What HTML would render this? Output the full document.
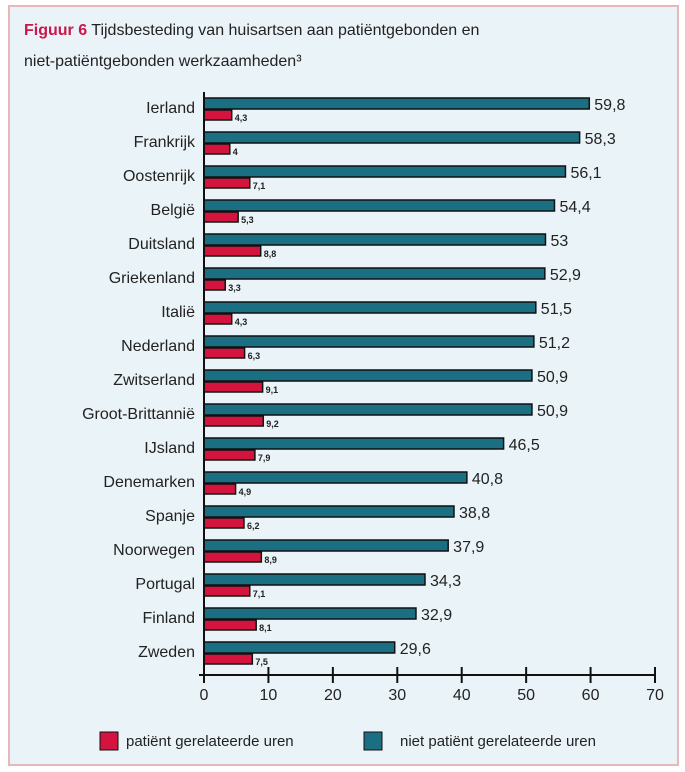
<!DOCTYPE html>
<html><head><meta charset="utf-8"><style>
body{margin:0;background:#fff;width:685px;height:772px;overflow:hidden;font-family:"Liberation Sans",sans-serif}
#frame{position:absolute;left:8px;top:5px;width:667px;height:757px;background:#eaf3f7;border:2px solid #e8b8b8}
</style></head><body>
<div id="frame"></div>
<svg id="chart" width="685" height="772" style="position:absolute;left:0;top:0"></svg>
<script>
const categories=["Ierland","Frankrijk","Oostenrijk","België","Duitsland","Griekenland","Italië","Nederland","Zwitserland","Groot-Brittannië","IJsland","Denemarken","Spanje","Noorwegen","Portugal","Finland","Zweden"];
const nonPatient=[59.8,58.3,56.1,54.4,53,52.9,51.5,51.2,50.9,50.9,46.5,40.8,38.8,37.9,34.3,32.9,29.6];
const patient=[4.3,4,7.1,5.3,8.8,3.3,4.3,6.3,9.1,9.2,7.9,4.9,6.2,8.9,7.1,8.1,7.5];
const ticks=[0,10,20,30,40,50,60,70];
const NS="http://www.w3.org/2000/svg";
const svg=document.getElementById('chart');
const x=v=>204+v*(655-204)/70;
const rowY=i=>98+i*34;
const fmt=v=>String(v).replace('.',',');
function mk(t,a,txt){const e=document.createElementNS(NS,t);for(const k in a)e.setAttribute(k,a[k]);if(txt!==undefined)e.textContent=txt;svg.appendChild(e);return e;}
let e;
e=mk('text',{x:24,y:35,'font-size':16,fill:'#222'});


e.innerHTML='<tspan fill="#c8174a" font-weight="bold">Figuur 6</tspan> Tijdsbesteding van huisartsen aan patiëntgebonden en';
e=mk('text',{x:24,y:66,'font-size':16,fill:'#222'},'niet-patiëntgebonden werkzaamheden³');


categories.forEach((c,i)=>{
 const y=rowY(i);
 e=mk('text',{x:195,y:y+15,'font-size':16,'text-anchor':'end',fill:'#222'},c);
 
 
 e=mk('rect',{x:x(0),y:y,width:x(nonPatient[i])-x(0),height:11,fill:'#1b6f82',stroke:'#111','stroke-width':1.5});
 
 
 e=mk('rect',{x:x(0),y:y+12,width:x(patient[i])-x(0),height:10,fill:'#d4143f',stroke:'#111','stroke-width':1.5});
 
 
 e=mk('text',{x:x(nonPatient[i])+5,y:y+12,'font-size':16,fill:'#222'},fmt(nonPatient[i]));
 
 
 e=mk('text',{x:x(patient[i])+3,y:y+23,'font-size':9,'font-weight':'bold',fill:'#222'},fmt(patient[i]));
 
 
});
e=mk('line',{x1:x(0),y1:92,x2:x(0),y2:676,stroke:'#111','stroke-width':2});


e=mk('line',{x1:x(0)-5,y1:675,x2:x(70),y2:675,stroke:'#111','stroke-width':2});


ticks.forEach(t=>{
 e=mk('line',{x1:x(t),y1:667,x2:x(t),y2:683,stroke:'#111','stroke-width':2});
 
 
 e=mk('text',{x:x(t),y:700,'font-size':16,'text-anchor':'middle',fill:'#222'},t);
 
 
});
e=mk('rect',{x:100,y:732,width:18,height:18,fill:'#d4143f',stroke:'#111'});


e=mk('text',{x:126,y:746,'font-size':15,fill:'#222'},'patiënt gerelateerde uren');


e=mk('rect',{x:364,y:732,width:18,height:18,fill:'#1b6f82',stroke:'#111'});


e=mk('text',{x:400,y:746,'font-size':15,fill:'#222'},'niet patiënt gerelateerde uren');


</script>
</body></html>
